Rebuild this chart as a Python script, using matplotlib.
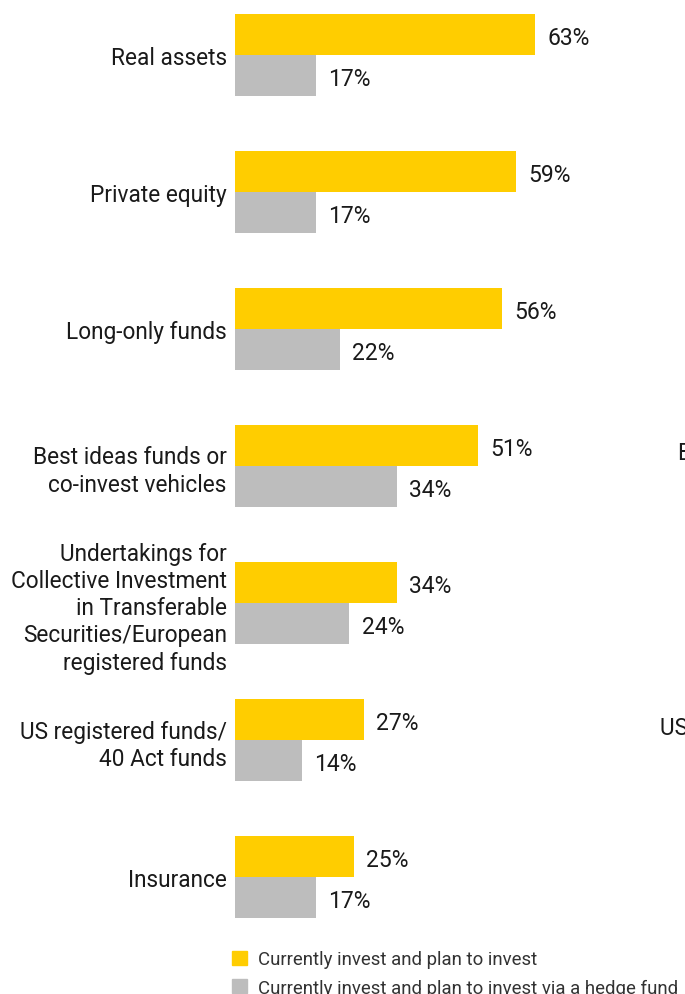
import numpy as np
import matplotlib.pyplot as plt
from matplotlib.patches import Patch

plt.rcParams['font.family'] = ['Roboto', 'DejaVu Sans']

categories = ['Real assets', 'Private equity', 'Long-only funds',
              'Best ideas funds or\nco-invest vehicles',
              'Undertakings for\nCollective Investment\nin Transferable\nSecurities/European\nregistered funds',
              'US registered funds/\n40 Act funds', 'Insurance']
current = [63, 59, 56, 51, 34, 27, 25]   # currently invest and plan to invest
hedge = [17, 17, 22, 34, 24, 14, 17]     # ... via a hedge fund
legend_labels = ['Currently invest and plan to invest',
                 'Currently invest and plan to invest via a hedge fund']

yellow = '#FFCD00'
grey = '#BDBDBD'
txt = '#1a1a1a'

fig = plt.figure(figsize=(6.85, 9.95), dpi=100)
ax = fig.add_axes([235 / 685, 0, 1 - 235 / 685, 1])

y = np.arange(len(categories))
h = 0.3
b1 = ax.barh(y - h / 2, current, height=h, color=yellow)
b2 = ax.barh(y + h / 2, hedge, height=h, color=grey)

for yi, v in zip(y, current):
    ax.text(v + 2.6, yi - h / 2 + 0.02, f'{v}%', va='center', ha='left',
            fontsize=16.5, color=txt)
for yi, v in zip(y, hedge):
    ax.text(v + 2.6, yi + h / 2 + 0.02, f'{v}%', va='center', ha='left',
            fontsize=16.5, color=txt)

ax.set_xlim(0, 450 / 4.76)
ax.set_ylim((995 - 56) / 137, -56 / 137)
ax.set_yticks(y)
ax.set_yticklabels(categories, fontsize=16.3, color=txt, linespacing=1.24)
ax.tick_params(axis='y', length=0, pad=6)
ax.set_xticks([])
for s in ax.spines.values():
    s.set_visible(False)

# neighbouring panel, cut off at the right edge
fig.text(678 / 685, 1 - 453 / 995, 'Best ideas funds or', fontsize=16.3,
         color=txt, ha='left', va='center')
fig.text(660 / 685, 1 - 728 / 995, 'US registered funds/', fontsize=16.3,
         color=txt, ha='left', va='center')

handles = [Patch(color=yellow), Patch(color=grey)]
fig.legend(handles, legend_labels, loc='upper left', frameon=False,
           bbox_to_anchor=(225 / 685, 1 - 944 / 995), fontsize=13.4,
           handlelength=0.8, handleheight=0.8, handletextpad=0.6,
           labelspacing=0.55, labelcolor='#333333', borderaxespad=0)

fig.savefig('out.png', dpi=100)
